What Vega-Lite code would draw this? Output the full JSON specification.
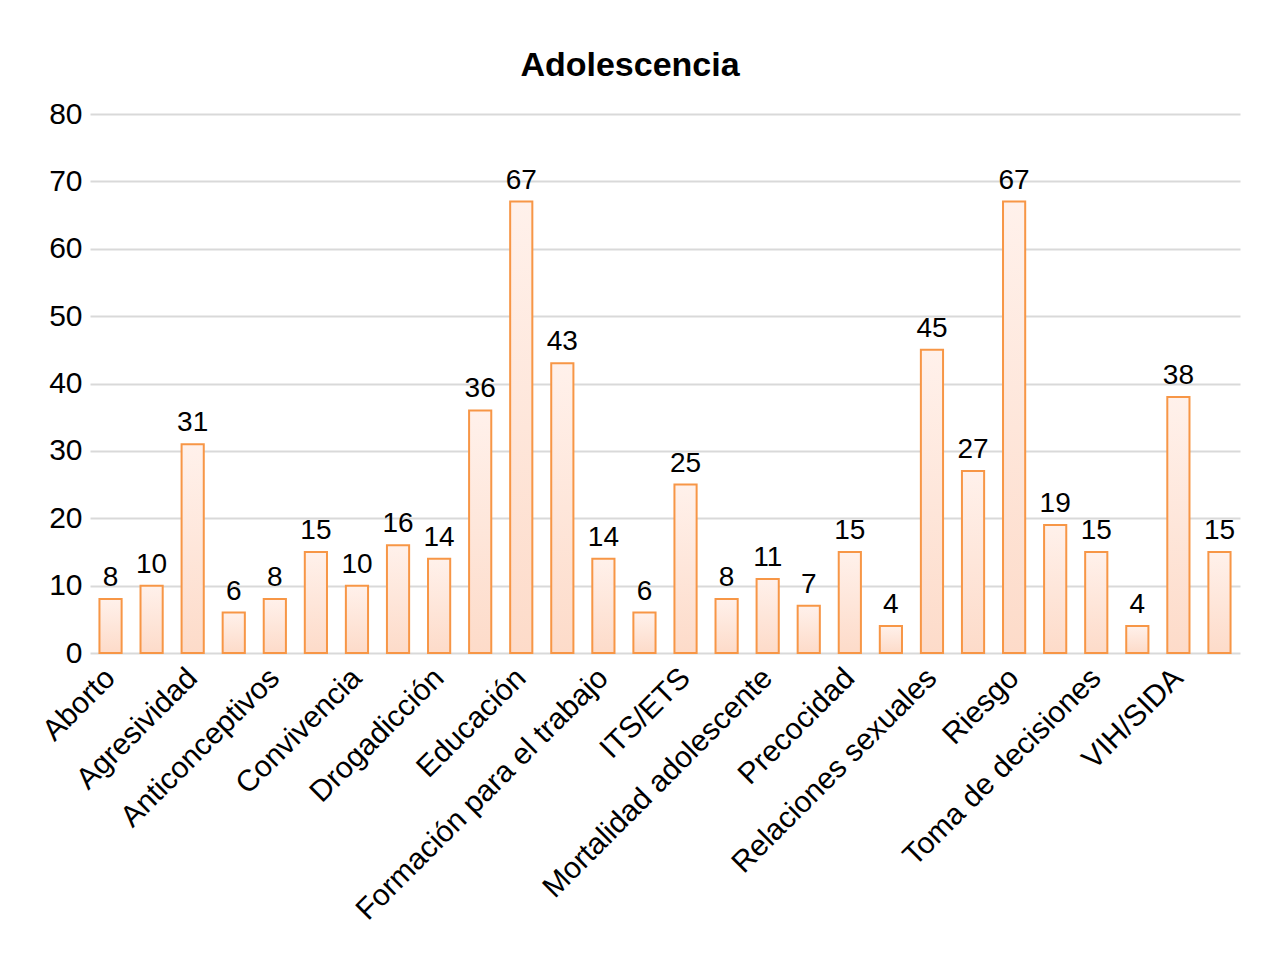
{
  "$schema": "https://vega.github.io/schema/vega-lite/v6.json",
  "width": 1150,
  "height": 539,
  "autosize": {"type": "none"},
  "padding": {"left": 90, "top": 114, "right": 25, "bottom": 300},
  "background": "white",
  "title": {
    "text": "Adolescencia",
    "font": "Liberation Sans",
    "fontSize": 34,
    "fontWeight": "bold",
    "color": "#000000",
    "anchor": "middle",
    "dx": -35,
    "offset": 16
  },
  "config": {
    "view": {"stroke": null},
    "font": "Liberation Sans"
  },
  "data": {
    "values": [
      {"tema": "Aborto", "casos": 8},
      {"tema": "Adicciones", "casos": 10},
      {"tema": "Agresividad", "casos": 31},
      {"tema": "Alcoholismo", "casos": 6},
      {"tema": "Anticonceptivos", "casos": 8},
      {"tema": "Autoestima", "casos": 15},
      {"tema": "Convivencia", "casos": 10},
      {"tema": "Depresión", "casos": 16},
      {"tema": "Drogadicción", "casos": 14},
      {"tema": "Drogas", "casos": 36},
      {"tema": "Educación", "casos": 67},
      {"tema": "Embarazo", "casos": 43},
      {"tema": "Formación para el trabajo", "casos": 14},
      {"tema": "Identidad", "casos": 6},
      {"tema": "ITS/ETS", "casos": 25},
      {"tema": "Maternidad", "casos": 8},
      {"tema": "Mortalidad adolescente", "casos": 11},
      {"tema": "Noviazgo", "casos": 7},
      {"tema": "Precocidad", "casos": 15},
      {"tema": "Proyecto de vida", "casos": 4},
      {"tema": "Relaciones sexuales", "casos": 45},
      {"tema": "Responsabilidad", "casos": 27},
      {"tema": "Riesgo", "casos": 67},
      {"tema": "Sexualidad", "casos": 19},
      {"tema": "Toma de decisiones", "casos": 15},
      {"tema": "Valores", "casos": 4},
      {"tema": "VIH/SIDA", "casos": 38},
      {"tema": "Violencia", "casos": 15}
    ]
  },
  "encoding": {
    "x": {
      "field": "tema",
      "type": "nominal",
      "sort": null,
      "scale": {"paddingInner": 0.46, "paddingOuter": 0.23},
      "axis": {
        "title": null,
        "values": ["Aborto", "Agresividad", "Anticonceptivos", "Convivencia", "Drogadicción", "Educación", "Formación para el trabajo", "ITS/ETS", "Mortalidad adolescente", "Precocidad", "Relaciones sexuales", "Riesgo", "Toma de decisiones", "VIH/SIDA"],
        "labelAngle": -45,
        "labelAlign": "right",
        "labelBaseline": "middle",
        "labelFontSize": 30,
        "labelColor": "#000000",
        "labelPadding": 20,
        "labelOverlap": false,
        "labelLimit": 0,
        "ticks": false,
        "domain": false,
        "grid": false
      }
    },
    "y": {
      "field": "casos",
      "type": "quantitative",
      "scale": {"domain": [0, 80], "nice": false},
      "axis": {
        "title": null,
        "values": [0, 10, 20, 30, 40, 50, 60, 70, 80],
        "labelFontSize": 30,
        "labelColor": "#000000",
        "labelPadding": 8,
        "ticks": false,
        "domain": false,
        "grid": true,
        "gridColor": "#d9d9d9",
        "gridWidth": 2
      }
    }
  },
  "layer": [
    {
      "mark": {
        "type": "bar",
        "stroke": "#f79646",
        "strokeWidth": 2,
        "color": {
          "gradient": "linear",
          "x1": 0, "y1": 0, "x2": 0, "y2": 1,
          "stops": [
            {"offset": 0, "color": "#fff1eb"},
            {"offset": 1, "color": "#fddbc9"}
          ]
        }
      }
    },
    {
      "mark": {
        "type": "text",
        "baseline": "alphabetic",
        "dy": -13,
        "fontSize": 28,
        "color": "#000000"
      },
      "encoding": {"text": {"field": "casos", "type": "quantitative"}}
    }
  ]
}
